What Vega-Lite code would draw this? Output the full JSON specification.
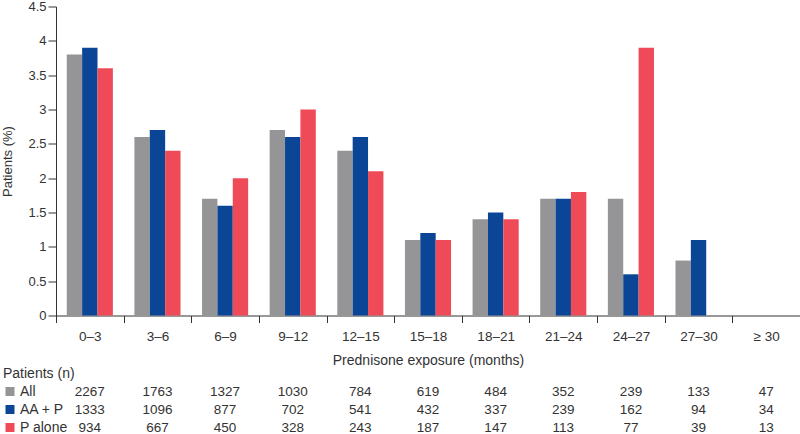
{
  "$schema": "https://vega.github.io/schema/vega-lite/v6.json",
  "padding": {"left": 1, "top": 0.5, "right": 0, "bottom": 0},
  "spacing": 17,
  "config": {
    "font": "Liberation Sans",
    "view": {"stroke": null},
    "axis": {"labelFontSize": 13, "titleFontSize": 13, "titleFontWeight": "normal", "labelColor": "#333333", "titleColor": "#333333", "domainColor": "#333333", "tickColor": "#333333", "grid": false},
    "legend": {"labelFontSize": 14, "titleFontSize": 14, "titleFontWeight": "normal", "labelColor": "#333333", "titleColor": "#333333"}
  },
  "data": {
    "values": [
      {"period": "0–3", "group": "All", "pct": 3.8, "n": 2267},
      {"period": "0–3", "group": "AA + P", "pct": 3.9, "n": 1333},
      {"period": "0–3", "group": "P alone", "pct": 3.6, "n": 934},
      {"period": "3–6", "group": "All", "pct": 2.6, "n": 1763},
      {"period": "3–6", "group": "AA + P", "pct": 2.7, "n": 1096},
      {"period": "3–6", "group": "P alone", "pct": 2.4, "n": 667},
      {"period": "6–9", "group": "All", "pct": 1.7, "n": 1327},
      {"period": "6–9", "group": "AA + P", "pct": 1.6, "n": 877},
      {"period": "6–9", "group": "P alone", "pct": 2.0, "n": 450},
      {"period": "9–12", "group": "All", "pct": 2.7, "n": 1030},
      {"period": "9–12", "group": "AA + P", "pct": 2.6, "n": 702},
      {"period": "9–12", "group": "P alone", "pct": 3.0, "n": 328},
      {"period": "12–15", "group": "All", "pct": 2.4, "n": 784},
      {"period": "12–15", "group": "AA + P", "pct": 2.6, "n": 541},
      {"period": "12–15", "group": "P alone", "pct": 2.1, "n": 243},
      {"period": "15–18", "group": "All", "pct": 1.1, "n": 619},
      {"period": "15–18", "group": "AA + P", "pct": 1.2, "n": 432},
      {"period": "15–18", "group": "P alone", "pct": 1.1, "n": 187},
      {"period": "18–21", "group": "All", "pct": 1.4, "n": 484},
      {"period": "18–21", "group": "AA + P", "pct": 1.5, "n": 337},
      {"period": "18–21", "group": "P alone", "pct": 1.4, "n": 147},
      {"period": "21–24", "group": "All", "pct": 1.7, "n": 352},
      {"period": "21–24", "group": "AA + P", "pct": 1.7, "n": 239},
      {"period": "21–24", "group": "P alone", "pct": 1.8, "n": 113},
      {"period": "24–27", "group": "All", "pct": 1.7, "n": 239},
      {"period": "24–27", "group": "AA + P", "pct": 0.6, "n": 162},
      {"period": "24–27", "group": "P alone", "pct": 3.9, "n": 77},
      {"period": "27–30", "group": "All", "pct": 0.8, "n": 133},
      {"period": "27–30", "group": "AA + P", "pct": 1.1, "n": 94},
      {"period": "27–30", "group": "P alone", "pct": null, "n": 39},
      {"period": "≥ 30", "group": "All", "pct": null, "n": 47},
      {"period": "≥ 30", "group": "AA + P", "pct": null, "n": 34},
      {"period": "≥ 30", "group": "P alone", "pct": null, "n": 13}
    ]
  },
  "resolve": {"scale": {"x": "independent"}, "axis": {"x": "independent"}},
  "vconcat": [
    {
      "width": 744,
      "height": 309,
      "mark": {"type": "bar"},
      "encoding": {
        "x": {
          "field": "period", "type": "nominal",
          "scale": {"domain": ["0–3", "3–6", "6–9", "9–12", "12–15", "15–18", "18–21", "21–24", "24–27", "27–30", "≥ 30"], "paddingInner": 0, "paddingOuter": 0},
          "axis": {"title": "Prednisone exposure (months)", "labelAngle": 0, "labelFontSize": 13.5, "titleFontSize": 14, "tickBand": "extent", "tickSize": 7, "labelPadding": 7, "titlePadding": 10}
        },
        "xOffset": {
          "field": "group", "type": "nominal",
          "scale": {"domain": ["All", "AA + P", "P alone"], "paddingInner": 0, "paddingOuter": 0.7}
        },
        "y": {
          "field": "pct", "type": "quantitative",
          "scale": {"domain": [0, 4.5], "nice": false},
          "axis": {"title": "Patients (%)", "values": [0, 0.5, 1, 1.5, 2, 2.5, 3, 3.5, 4, 4.5], "format": "~g", "tickSize": 8, "labelPadding": 2, "titlePadding": 13}
        },
        "color": {
          "field": "group", "type": "nominal",
          "scale": {"domain": ["All", "AA + P", "P alone"], "range": ["#959597", "#0b4595", "#ee4a57"]},
          "legend": {"title": "Patients (n)", "orient": "none", "legendX": -53, "legendY": 360, "symbolType": "square", "symbolSize": 81, "symbolStrokeWidth": 0, "rowPadding": 4, "titlePadding": 4, "labelOffset": 3}
        }
      }
    },
    {
      "width": 744,
      "height": 36,
      "mark": {"type": "text", "fontSize": 13.5, "color": "#333333", "baseline": "middle"},
      "encoding": {
        "x": {
          "field": "period", "type": "nominal",
          "scale": {"domain": ["0–3", "3–6", "6–9", "9–12", "12–15", "15–18", "18–21", "21–24", "24–27", "27–30", "≥ 30"], "paddingInner": 0, "paddingOuter": 0},
          "axis": null
        },
        "y": {
          "field": "group", "type": "nominal",
          "scale": {"type": "point", "domain": ["All", "AA + P", "P alone"], "padding": 0},
          "axis": null
        },
        "text": {"field": "n", "type": "quantitative", "format": "d"}
      }
    }
  ]
}
